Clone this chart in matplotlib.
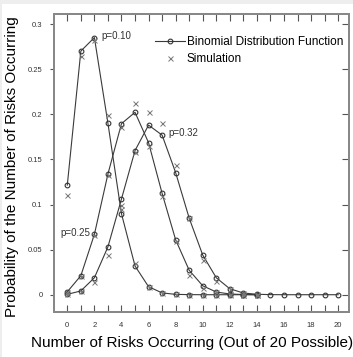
import matplotlib
matplotlib.use("Agg")
import matplotlib.pyplot as plt
from matplotlib.patches import Rectangle
from matplotlib.ticker import MultipleLocator, FixedLocator

plt.rcParams['font.family'] = ['Liberation Sans', 'DejaVu Sans']

# --- data ---
k_short = list(range(0, 15))
k_long = list(range(0, 21))

binom_p10 = [0.1216, 0.2702, 0.2852, 0.1901, 0.0898, 0.0319, 0.0089, 0.0020,
             0.0004, 0.0001, 0.0, 0.0, 0.0, 0.0, 0.0]
binom_p25 = [0.0032, 0.0211, 0.0669, 0.1339, 0.1897, 0.2023, 0.1686, 0.1124,
             0.0609, 0.0271, 0.0099, 0.0030, 0.0008, 0.0002, 0.0000]
binom_p32 = [0.0004, 0.0042, 0.0188, 0.0531, 0.1062, 0.1599, 0.1881, 0.1770,
             0.1354, 0.0849, 0.0440, 0.0188, 0.0066, 0.0019, 0.0005, 0.0001,
             0.0, 0.0, 0.0, 0.0, 0.0]

sim_p10 = [0.111, 0.265, 0.283, 0.199, 0.095, 0.035, 0.009, 0.002,
           0.0003, 0.0, 0.0, 0.0, 0.0, 0.0, 0.0]
sim_p25 = [0.003, 0.021, 0.066, 0.133, 0.186, 0.213, 0.165, 0.110,
           0.060, 0.022, 0.008, 0.003, 0.001, 0.0002, 0.0]
sim_p32 = [0.0004, 0.004, 0.014, 0.044, 0.099, 0.158, 0.203, 0.1905,
           0.144, 0.085, 0.038, 0.0155, 0.006, 0.002, 0.0004]

curve_labels = ["p=0.10", "p=0.25", "p=0.32"]
label_pos = [(2.49, 0.287, 'left'), (1.68, 0.068, 'right'), (7.5, 0.1794, 'left')]

x_tick_labels = [str(v) for v in range(0, 21, 2)]
y_ticks = [0, 0.05, 0.1, 0.15, 0.2, 0.25, 0.3]
y_tick_labels = ["0", "0.05", "0.1", "0.15", "0.2", "0.25", "0.3"]

W, H = 353, 357
fig = plt.figure(figsize=(W / 100, H / 100), dpi=100)
fig.patch.set_facecolor('white')

# light grey frame at top/left
fig.add_artist(Rectangle((0, 1 - 4 / H), 1, 4 / H, transform=fig.transFigure,
                         facecolor='#eeeeee', edgecolor='none', zorder=0))
fig.add_artist(Rectangle((0, 0), 2 / W, 1, transform=fig.transFigure,
                         facecolor='#eeeeee', edgecolor='none', zorder=0))

left, right, top, bottom = 54.3, 349, 14.3, 312.3
ax = fig.add_axes([left / W, 1 - bottom / H, (right - left) / W, (bottom - top) / H])

line_col = '#3a3a3a'
sim_col = '#777777'
mk = dict(marker='o', markersize=3.4, markerfacecolor='none',
          markeredgecolor='#333333', markeredgewidth=0.8)

l1, = ax.plot(k_short, binom_p10, color=line_col, lw=0.8, **mk)
ax.plot(k_short, binom_p25, color=line_col, lw=0.8, **mk)
ax.plot(k_long, binom_p32, color=line_col, lw=0.8, **mk)

smk = dict(linestyle='none', marker='x', markersize=3.6, color=sim_col,
           markeredgewidth=0.7)
s1, = ax.plot(k_short, sim_p10, **smk)
ax.plot(k_short, sim_p25, **smk)
ax.plot(k_short, sim_p32, **smk)

for lab, (x, y, ha) in zip(curve_labels, label_pos):
    ax.text(x, y, lab, fontsize=7, color='#333333', ha=ha, va='center')

ax.set_xlim(-0.96, 20.8)
ax.set_ylim(-0.0195, 0.311)

ax.xaxis.set_major_locator(FixedLocator(list(range(0, 21, 2))))
ax.set_xticklabels(x_tick_labels)
ax.xaxis.set_minor_locator(MultipleLocator(1))
ax.set_yticks(y_ticks)
ax.set_yticklabels(y_tick_labels)

ax.tick_params(axis='x', which='both', direction='in', top=True, bottom=True,
               length=5, width=0.8, color='#555555', labelsize=5.5,
               labelcolor='#333333', pad=7)
ax.tick_params(axis='y', which='major', direction='out', left=True, right=False,
               length=3, width=0.8, color='#555555', labelsize=5.5,
               labelcolor='#333333', pad=5.5)

# right-side inward ticks
ax2 = ax.twinx()
ax2.set_ylim(ax.get_ylim())
ax2.set_yticks(y_ticks)
ax2.tick_params(axis='y', direction='in', length=5, width=0.8, color='#555555',
                labelright=False)
for a in (ax, ax2):
    for sp in a.spines.values():
        sp.set_color('#888888')
        sp.set_linewidth(1.4)

leg = ax.legend([l1, s1], ["Binomial Distribution Function", "Simulation"],
                loc='upper left', bbox_to_anchor=(155 / W, 1 - 36.4 / H),
                bbox_transform=fig.transFigure, frameon=False, fontsize=8.5,
                borderpad=0, borderaxespad=0, handlelength=2.55,
                handletextpad=0.15, labelspacing=0.42)

fig.text(192.5 / W, 1 - 343.3 / H, "Number of Risks Occurring (Out of 20 Possible)",
         fontsize=11, ha='center', va='center', color='black')
fig.text(12 / W, 1 - 167 / H, "Probability of the Number of Risks Occurring",
         fontsize=11, ha='center', va='center', rotation=90, color='black')

fig.savefig("out.png", dpi=100)
